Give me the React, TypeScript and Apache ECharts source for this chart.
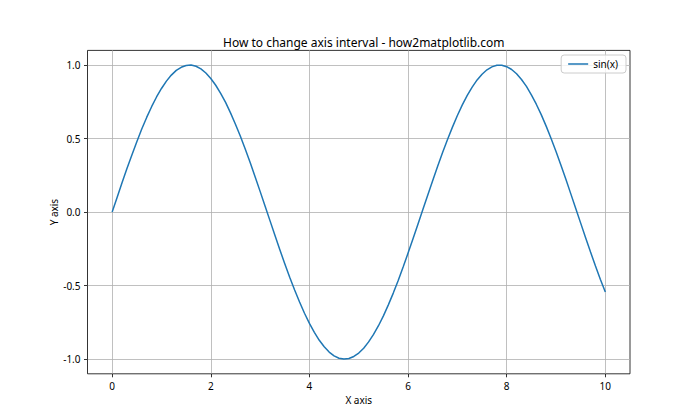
import React, { useEffect, useRef } from "react";
import * as echarts from "echarts";

const TITLE = "How to change axis interval - how2matplotlib.com";
const SERIES_NAME = "sin(x)";
const X_LABEL = "X axis";
const Y_LABEL = "Y axis";

const xValues: number[] = [
  0.0, 0.1, 0.2, 0.3, 0.4, 0.5, 0.6, 0.7, 0.8, 0.9,
  1.0, 1.1, 1.2, 1.3, 1.4, 1.5, 1.6, 1.7, 1.8, 1.9,
  2.0, 2.1, 2.2, 2.3, 2.4, 2.5, 2.6, 2.7, 2.8, 2.9,
  3.0, 3.1, 3.2, 3.3, 3.4, 3.5, 3.6, 3.7, 3.8, 3.9,
  4.0, 4.1, 4.2, 4.3, 4.4, 4.5, 4.6, 4.7, 4.8, 4.9,
  5.0, 5.1, 5.2, 5.3, 5.4, 5.5, 5.6, 5.7, 5.8, 5.9,
  6.0, 6.1, 6.2, 6.3, 6.4, 6.5, 6.6, 6.7, 6.8, 6.9,
  7.0, 7.1, 7.2, 7.3, 7.4, 7.5, 7.6, 7.7, 7.8, 7.9,
  8.0, 8.1, 8.2, 8.3, 8.4, 8.5, 8.6, 8.7, 8.8, 8.9,
  9.0, 9.1, 9.2, 9.3, 9.4, 9.5, 9.6, 9.7, 9.8, 9.9,
  10.0,
];

const yValues: number[] = [
  0.0, 0.1, 0.199, 0.296, 0.389, 0.479, 0.565, 0.644, 0.717, 0.783,
  0.841, 0.891, 0.932, 0.964, 0.985, 0.997, 1.0, 0.992, 0.974, 0.946,
  0.909, 0.863, 0.808, 0.746, 0.675, 0.598, 0.516, 0.427, 0.335, 0.239,
  0.141, 0.042, -0.058, -0.158, -0.256, -0.351, -0.443, -0.53, -0.612, -0.688,
  -0.757, -0.818, -0.872, -0.916, -0.952, -0.978, -0.994, -1.0, -0.996, -0.982,
  -0.959, -0.926, -0.883, -0.832, -0.773, -0.706, -0.631, -0.551, -0.465, -0.374,
  -0.279, -0.182, -0.083, 0.017, 0.117, 0.215, 0.312, 0.405, 0.494, 0.578,
  0.657, 0.729, 0.794, 0.85, 0.899, 0.938, 0.968, 0.988, 0.999, 0.999,
  0.989, 0.97, 0.941, 0.902, 0.855, 0.798, 0.734, 0.663, 0.585, 0.501,
  0.412, 0.319, 0.223, 0.124, 0.025, -0.075, -0.174, -0.272, -0.366, -0.458,
  -0.544,
];

const xTicks: number[] = [0, 2, 4, 6, 8, 10];
const yTicks: number[] = [-1.0, -0.5, 0.0, 0.5, 1.0];

const FONT = "'Noto Sans', 'Liberation Sans', sans-serif";

export default function App() {
  const ref = useRef<HTMLDivElement>(null);
  useEffect(() => {
    if (!ref.current) return;
    const chart = echarts.init(ref.current, undefined, { renderer: "svg" });
    const data = xValues.map((x, i) => [x, yValues[i]]);
    const fmtY = (v: number) => v.toFixed(1);
    chart.setOption({
      animation: false,
      backgroundColor: "#ffffff",
      textStyle: { fontFamily: FONT, color: "#000" },
      title: {
        text: TITLE,
        left: 358.75,
        top: 31,
        textAlign: "center",
        textStyle: { fontFamily: FONT, fontSize: 12, fontWeight: "normal", color: "#000" },
      },
      legend: {
        right: 74,
        top: 55,
        data: [SERIES_NAME],
        icon: "rect",
        itemWidth: 20,
        itemHeight: 1.5,
        itemGap: 6,
        padding: [4, 8, 4, 7],
        backgroundColor: "rgba(255,255,255,0.8)",
        borderColor: "#cccccc",
        borderWidth: 1,
        borderRadius: 3,
        textStyle: { fontFamily: FONT, fontSize: 10, color: "#000" },
      },
      grid: {
        left: 87.5,
        right: 70,
        top: 50.4,
        bottom: 46.2,
        containLabel: false,
        show: true,
        borderColor: "#000",
        borderWidth: 0.8,
        backgroundColor: "transparent",
      },
      xAxis: {
        type: "value",
        min: -0.5,
        max: 10.5,
        name: X_LABEL,
        nameLocation: "middle",
        nameGap: 21,
        nameMoveOverlap: false,
        nameTextStyle: { fontFamily: FONT, fontSize: 10, color: "#000" },
        axisLine: { show: false, onZero: false },
        axisTick: { show: true, length: 3.5, customValues: xTicks, lineStyle: { color: "#000", width: 0.8 } },
        axisLabel: { customValues: xTicks, margin: 7, fontFamily: FONT, fontSize: 10, color: "#000" },
        splitLine: { show: true, lineStyle: { color: "#b0b0b0", width: 0.8 } },
      },
      yAxis: {
        type: "value",
        min: -1.1,
        max: 1.1,
        name: Y_LABEL,
        nameLocation: "middle",
        nameRotate: 90,
        nameGap: 29,
        nameMoveOverlap: false,
        nameTextStyle: { fontFamily: FONT, fontSize: 10, color: "#000" },
        axisLine: { show: false, onZero: false },
        axisTick: { show: true, length: 3.5, customValues: yTicks, lineStyle: { color: "#000", width: 0.8 } },
        axisLabel: { customValues: yTicks, margin: 7, fontFamily: FONT, fontSize: 10, color: "#000", formatter: fmtY },
        splitLine: { show: true, lineStyle: { color: "#b0b0b0", width: 0.8 } },
      },
      series: [
        {
          name: SERIES_NAME,
          type: "line",
          data,
          showSymbol: false,
          symbol: "none",
          lineStyle: { color: "#1f77b4", width: 1.5 },
          itemStyle: { color: "#1f77b4" },
        },
      ],
    });
    return () => chart.dispose();
  }, []);
  return (
    <div
      ref={ref}
      style={{ position: "fixed", left: 0, top: 0, width: 700, height: 420, background: "#fff" }}
    />
  );
}
